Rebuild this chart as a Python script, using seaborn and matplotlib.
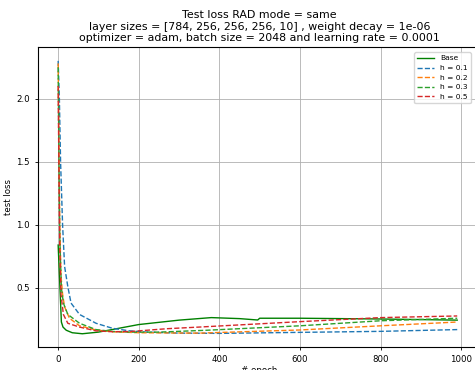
import pandas as pd
import matplotlib
matplotlib.use("Agg")
import matplotlib.pyplot as plt
import seaborn as sns

# Values (epoch, test loss) for each run
base_epoch = [0, 8, 12, 20, 35, 60, 100, 150, 200, 300, 380, 450, 495, 500, 600, 800, 990]
base_loss = [0.84, 0.23, 0.19, 0.165, 0.145, 0.137, 0.15, 0.18, 0.21, 0.245, 0.265, 0.257, 0.246, 0.26, 0.26, 0.254, 0.245]

h01_epoch = [0, 3, 6, 11, 16, 24, 32, 53, 94, 135, 177, 220, 300, 400, 600, 800, 990]
h01_loss = [2.30, 2.0, 1.5, 1.0, 0.67, 0.51, 0.38, 0.29, 0.22, 0.18, 0.16, 0.15, 0.142, 0.14, 0.148, 0.156, 0.17]

h02_epoch = [0, 2, 4, 7, 11, 16, 28, 53, 94, 135, 200, 350, 600, 800, 990]
h02_loss = [2.28, 1.6, 1.0, 0.6, 0.45, 0.35, 0.26, 0.2, 0.167, 0.153, 0.145, 0.142, 0.167, 0.2, 0.23]

h03_epoch = [0, 2, 4, 8, 13, 24, 53, 94, 135, 180, 250, 370, 600, 800, 990]
h03_loss = [2.25, 1.5, 0.9, 0.5, 0.38, 0.29, 0.22, 0.17, 0.155, 0.15, 0.15, 0.165, 0.2, 0.24, 0.26]

h05_epoch = [0, 2, 4, 7, 13, 24, 53, 94, 135, 180, 270, 350, 600, 800, 990]
h05_loss = [2.1, 1.4, 0.8, 0.45, 0.29, 0.22, 0.19, 0.16, 0.153, 0.155, 0.177, 0.19, 0.233, 0.265, 0.278]

runs = [
    ("Base", base_epoch, base_loss, "green", "-"),
    ("h = 0.1", h01_epoch, h01_loss, "tab:blue", "--"),
    ("h = 0.2", h02_epoch, h02_loss, "tab:orange", "--"),
    ("h = 0.3", h03_epoch, h03_loss, "tab:green", "--"),
    ("h = 0.5", h05_epoch, h05_loss, "tab:red", "--"),
]

fig = plt.figure(figsize=(4.75, 3.7), dpi=100)
# axes runs past the right/bottom edge, as in the cropped reference
ax = fig.add_axes([38 / 475, 23 / 370, 443 / 475, 300 / 370])

for name, ep, loss, color, ls in runs:
    df = pd.DataFrame({"epoch": ep, "loss": loss})
    sns.lineplot(data=df, x="epoch", y="loss", ax=ax, color=color,
                 linestyle=ls, linewidth=1.0, label=name)

ax.set_xlim(-50, 1049)
ax.set_ylim(0.032, 2.41)
ax.set_xticks([0, 200, 400, 600, 800, 1000])
ax.set_yticks([0.5, 1.0, 1.5, 2.0])
ax.grid(True, color="#b0b0b0", linewidth=0.6)
ax.tick_params(labelsize=6.2, width=0.6, length=2.5)
for s in ax.spines.values():
    s.set_linewidth(0.8)
ax.set_xlabel("# epoch", fontsize=6.2, labelpad=1)
ax.set_ylabel("test loss", fontsize=6.2, labelpad=2)
ax.set_title("Test loss RAD mode = same\n"
             "layer sizes = [784, 256, 256, 256, 10] , weight decay = 1e-06\n"
             "optimizer = adam, batch size = 2048 and learning rate = 0.0001",
             fontsize=7.9, pad=4)
ax.legend(loc="upper right", fontsize=5.4, labelspacing=0.45,
          handlelength=2.2, bbox_to_anchor=(0.985, 0.995))

fig.savefig("out.png", dpi=100)
